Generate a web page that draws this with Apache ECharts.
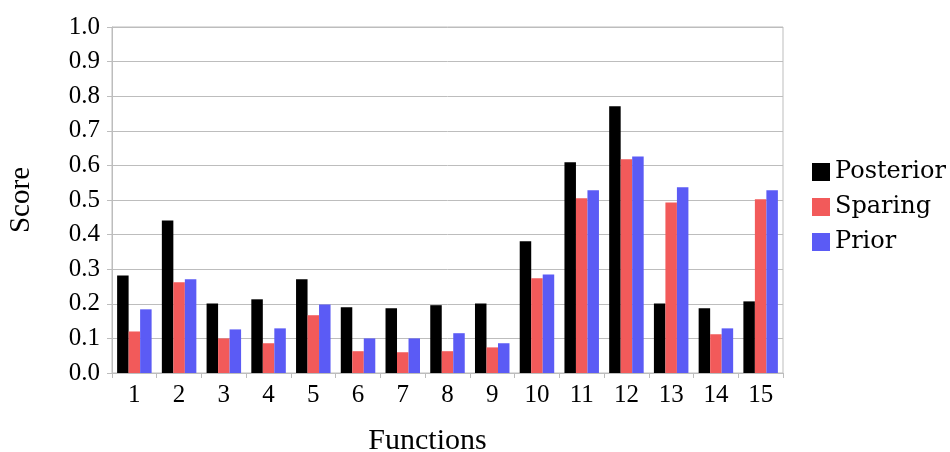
<!DOCTYPE html>
<html>
<head>
<meta charset="utf-8">
<script src="https://cdn.jsdelivr.net/npm/echarts@6/dist/echarts.min.js"></script>
<style>
  html, body { margin: 0; padding: 0; background: #fff; }
  #main { width: 950px; height: 452px; }
</style>
</head>
<body>
<div id="main"></div>
<script>
// categories and series
var functions = ['1','2','3','4','5','6','7','8','9','10','11','12','13','14','15'];
var seriesNames = ['Posterior', 'Sparing', 'Prior'];
var posterior = [0.282, 0.441, 0.201, 0.213, 0.271, 0.190, 0.187, 0.196, 0.201, 0.381, 0.609, 0.771, 0.201, 0.187, 0.207];
var sparing   = [0.120, 0.262, 0.100, 0.086, 0.167, 0.063, 0.060, 0.063, 0.074, 0.274, 0.505, 0.618, 0.493, 0.112, 0.502];
var prior     = [0.184, 0.271, 0.126, 0.129, 0.198, 0.100, 0.100, 0.115, 0.086, 0.285, 0.528, 0.626, 0.537, 0.129, 0.528];

var colors = ['#000000', '#f25a5a', '#5b5bf5'];
var font = 'Liberation Serif';
var gridColor = '#bdbdbd';

var myChart = echarts.init(document.getElementById('main'));

function bar(name, data, color) {
    return {
        name: name,
        type: 'bar',
        data: data,
        barWidth: 11.5,
        barGap: '0%',
        itemStyle: { color: color },
        animation: false
    };
}

myChart.setOption({
    animation: false,
    textStyle: { fontFamily: font, color: '#000' },
    grid: {
        left: 112, right: 167, top: 27, bottom: 79,
        outerBoundsMode: 'none',
        containLabel: false,
        show: true, borderColor: gridColor, borderWidth: 1
    },
    legend: {
        orient: 'vertical',
        left: 812,
        top: 160,
        padding: 0,
        itemWidth: 18,
        itemHeight: 18,
        itemGap: 11,
        icon: 'rect',
        textStyle: { fontFamily: 'DejaVu Serif', fontSize: 24, color: '#000' },
        data: seriesNames
    },
    xAxis: {
        type: 'category',
        data: functions,
        name: 'Functions',
        nameLocation: 'middle',
        nameGap: 53,
        nameTextStyle: { fontFamily: font, fontSize: 30, color: '#000', padding: [0, 40, 0, 0] },
        axisLine: { lineStyle: { color: gridColor } },
        axisTick: { show: true, length: 5, lineStyle: { color: gridColor } },
        axisLabel: { fontFamily: font, fontSize: 25, color: '#000', margin: 10 }
    },
    yAxis: {
        type: 'value',
        min: 0, max: 1, interval: 0.1,
        name: 'Score',
        nameLocation: 'middle',
        nameGap: 76,
        nameTextStyle: { fontFamily: font, fontSize: 29, color: '#000' },
        axisLine: { show: true, lineStyle: { color: gridColor } },
        axisTick: { show: true, length: 5, lineStyle: { color: gridColor } },
        splitLine: { lineStyle: { color: gridColor } },
        axisLabel: {
            fontFamily: font, fontSize: 25, color: '#000', margin: 12,
            formatter: function (v) { return v.toFixed(1); }
        }
    },
    series: [
        bar(seriesNames[0], posterior, colors[0]),
        bar(seriesNames[1], sparing, colors[1]),
        bar(seriesNames[2], prior, colors[2])
    ]
});
</script>
</body>
</html>
